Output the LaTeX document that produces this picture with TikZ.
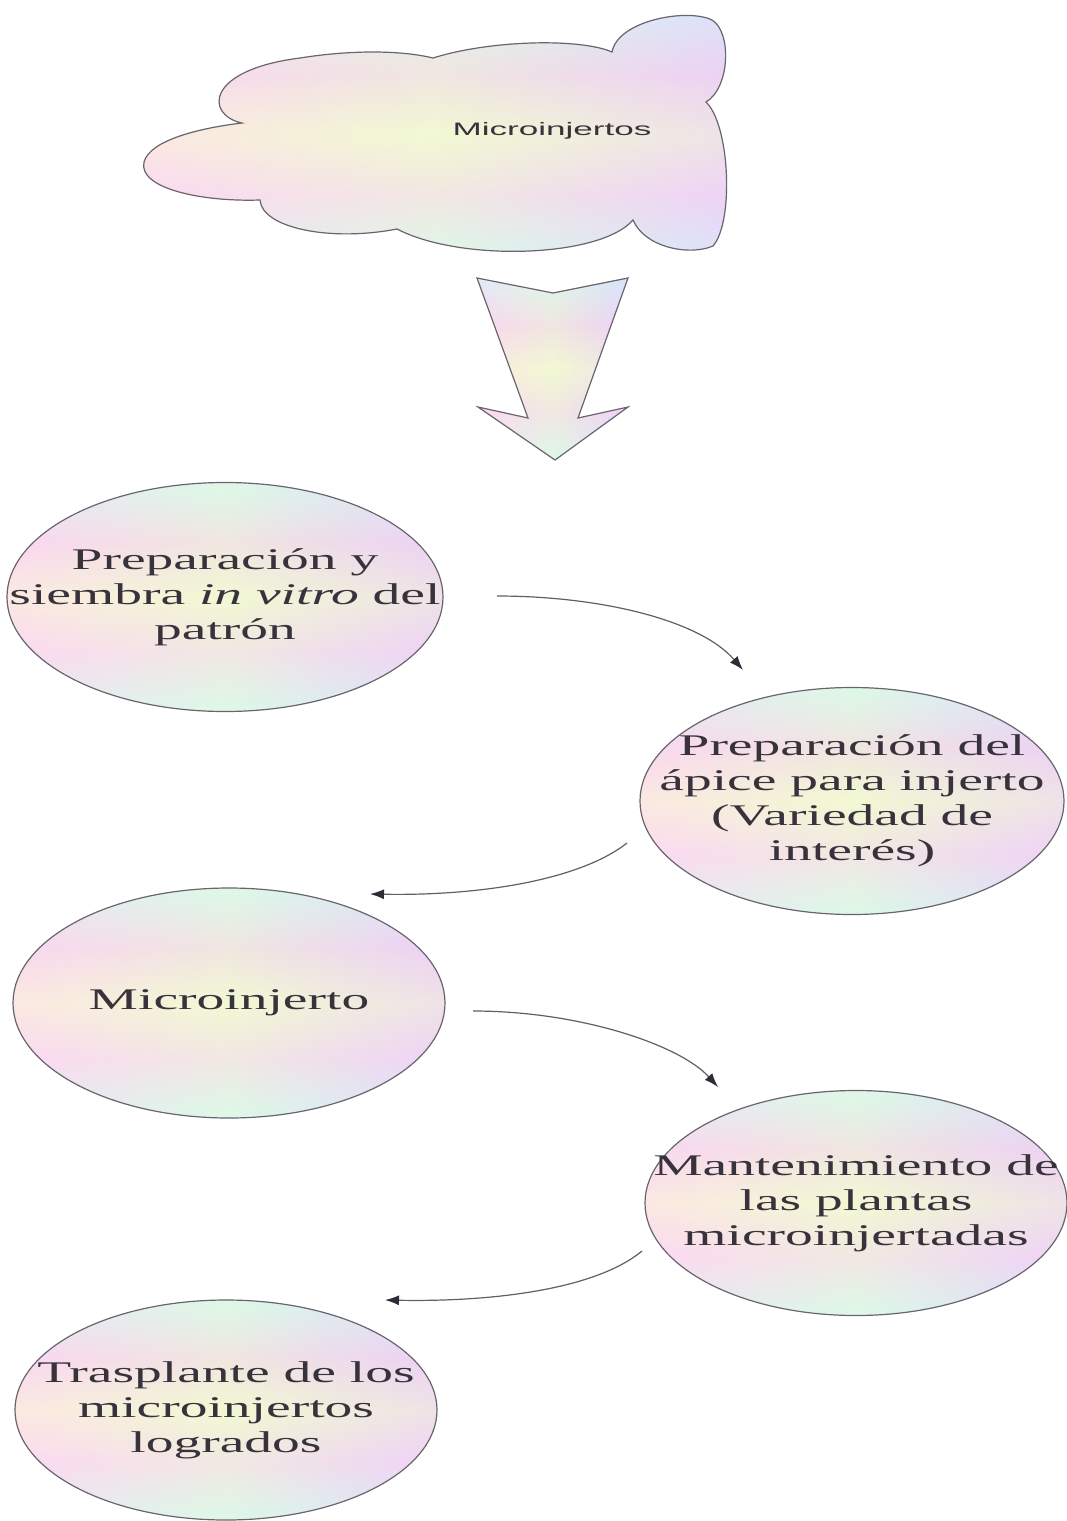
\documentclass[tikz,border=0pt]{standalone}
\usepackage{fontspec}
\setmainfont{Liberation Serif}[FakeStretch=1.85]
\newfontfamily\cloudfont{Liberation Sans}[FakeStretch=1.95]
\usetikzlibrary{shapes.geometric,arrows.meta}
\definecolor{edgec}{RGB}{105,100,110}
\definecolor{linec}{RGB}{95,95,100}
\definecolor{tipc}{RGB}{45,45,55}
\definecolor{textc}{RGB}{55,50,60}
\definecolor{pA}{RGB}{228,218,250}
\definecolor{pB}{RGB}{248,212,240}
\definecolor{pC}{RGB}{208,244,248}
\definecolor{pD}{RGB}{248,246,208}
\definecolor{pE}{RGB}{216,246,218}
\definecolor{pF}{RGB}{245,208,236}
\definecolor{hA}{RGB}{216,238,254}
\definecolor{hB}{RGB}{254,222,244}
\definecolor{hC}{RGB}{236,252,214}
\definecolor{hD}{RGB}{230,210,254}
\pgfdeclareverticalshading{pastelv}{100bp}{color(0bp)=(pA); color(14bp)=(pE); color(26bp)=(pC); color(38bp)=(pB); color(50bp)=(pD); color(62bp)=(pF); color(74bp)=(pC); color(86bp)=(pB); color(100bp)=(pA)}
\pgfdeclarehorizontalshading{pastelh}{100bp}{color(0bp)=(hA); color(25bp)=(hB); color(50bp)=(hC); color(75bp)=(hD); color(100bp)=(hB)}
\tikzset{
  pastelfill/.style={shade, shading=pastelv,
    path picture={\shade[shading=pastelh, opacity=0.5]
      (path picture bounding box.south west) rectangle (path picture bounding box.north east);}},
  bubble/.style={ellipse, draw=edgec, line width=0.6pt, inner sep=0pt, pastelfill},
  bubbletext/.style={font=\fontsize{15}{17.5}\selectfont, text=textc, align=center, inner sep=0pt},
  flow/.style={draw=linec, line width=0.6pt,
    -{Latex[length=7pt,width=5pt,color=tipc]}},
  outline/.style={draw=edgec, line width=0.6pt, pastelfill}
}
\begin{document}
\begin{tikzpicture}[x=0.5pt,y=-0.5pt]
\useasboundingbox (0,0) rectangle (1066,1521);
% cloud
\path[outline] (144,162) .. controls (150,140) and (200,128) .. (242,123)
 .. controls (205,115) and (205,70) .. (300,58)
 .. controls (350,50) and (400,50) .. (433,58)
 .. controls (490,40) and (580,38) .. (612,52)
 .. controls (618,20) and (688,8) .. (712,20)
 .. controls (732,32) and (730,88) .. (706,102)
 .. controls (730,125) and (734,222) .. (713,246)
 .. controls (690,256) and (645,248) .. (633,220)
 .. controls (600,258) and (460,262) .. (397,229)
 .. controls (330,242) and (262,228) .. (260,200)
 .. controls (200,202) and (138,188) .. (144,162) -- cycle;
\node[font=\cloudfont\fontsize{9}{11}\selectfont, text=textc] (cloud) at (552,131) {Microinjertos};
% block arrow
\path[outline] (477,278) -- (553,293) -- (628,278) -- (578,418) -- (628,407)
  -- (555,460) -- (478,407) -- (528,418) -- cycle;
% bubbles
\node[bubble, minimum width=218pt, minimum height=114.5pt] (e1) at (225,597) {};
\node[bubble, minimum width=212pt, minimum height=113.5pt] (e2) at (852,801) {};
\node[bubble, minimum width=216pt, minimum height=115pt] (e3) at (229,1003) {};
\node[bubble, minimum width=211pt, minimum height=112.5pt] (e4) at (856,1203) {};
\node[bubble, minimum width=211pt, minimum height=110pt] (e5) at (226,1410) {};
\node[bubbletext] (t1) at (e1.center) {Preparación y\\siembra \textit{in vitro} del\\patrón};
\node[bubbletext] (t2) at (e2.center) {Preparación del\\ápice para injerto\\(Variedad de\\interés)};
\node[bubbletext] (t3) at (e3.center) {Microinjerto};
\node[bubbletext] (t4) at (e4.center) {Mantenimiento de\\las plantas\\microinjertadas};
\node[bubbletext] (t5) at (e5.center) {Trasplante de los\\microinjertos\\logrados};
% connector ends
\coordinate (c1s) at (497,596);  \coordinate (c1e) at (743,670);
\coordinate (c2s) at (627,843);  \coordinate (c2e) at (370,894);
\coordinate (c3s) at (473,1011); \coordinate (c3e) at (718,1087);
\coordinate (c4s) at (642,1251); \coordinate (c4e) at (385,1300);
\draw[flow] (c1s) .. controls (600,596) and (700,620) .. (c1e);
\draw[flow] (c2s) .. controls (580,880) and (480,896) .. (c2e);
\draw[flow] (c3s) .. controls (580,1011) and (680,1045) .. (c3e);
\draw[flow] (c4s) .. controls (595,1290) and (490,1302) .. (c4e);
\end{tikzpicture}
\end{document}
